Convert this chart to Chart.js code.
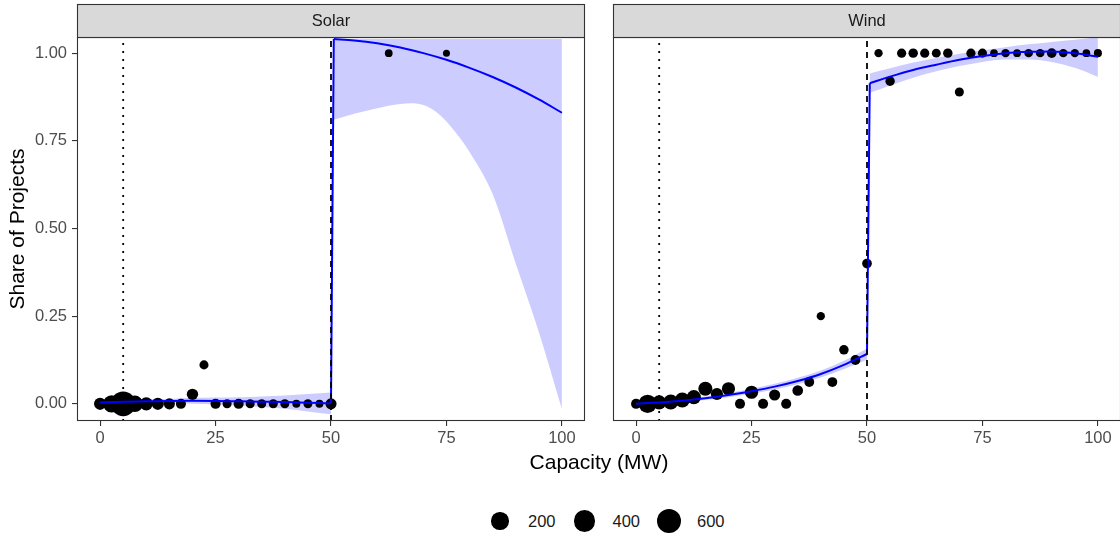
<!DOCTYPE html>
<html>
<head>
<meta charset="utf-8">
<script src="https://cdn.jsdelivr.net/npm/chart.js@4.4.1/dist/chart.umd.min.js"></script>
<style>
html,body{margin:0;padding:0;background:#fff;width:1120px;height:537px;overflow:hidden;font-family:"Liberation Sans",Arial,sans-serif;}
canvas{position:absolute;top:0;}
#c1{left:0;}
#c2{left:536px;}
#xtitle{position:absolute;left:0;top:449px;width:1198px;text-align:center;font-size:21px;line-height:25px;color:#000;}
.lk{position:absolute;background:#000;border-radius:50%;}
.lt{position:absolute;font-size:16.5px;line-height:20px;color:#1a1a1a;}
</style>
</head>
<body>
<canvas id="c1" width="600" height="450"></canvas>
<canvas id="c2" width="600" height="450"></canvas>
<div id="xtitle">Capacity (MW)</div>
<div id="legend"></div>
<script>
// ---------- data ----------
const panels = ["Solar", "Wind"];
const xTicks = [0, 25, 50, 75, 100];
const yTicks = [0, 0.25, 0.5, 0.75, 1];
const yTickLabels = ["0.00", "0.25", "0.50", "0.75", "1.00"];
const legendSizes = [200, 400, 600];
const sizeMin = 1, sizeMax = 650;
const thresholdLow = 5, thresholdHigh = 50;

const solarX = [0,2.5,5,7.5,10,12.5,15,17.5,20,22.5,25,27.5,30,32.5,35,37.5,40,42.5,45,47.5,50,62.5,75];
const solarY = [0,0,0,0,0,0,0,0,0.027,0.111,0,0,0,0,0,0,0,0,0,0,0,1,1];
const solarN = [51,198,600,168,73,51,33,19,37,9,19,9,19,9,9,9,9,3,9,3,33,2,1];

const windX = [0,2.5,5,7.5,10,12.5,15,17.5,20,22.5,25,27.5,30,32.5,35,37.5,40,42.5,45,47.5,50,52.5,55,57.5,60,62.5,65,67.5,70,72.5,75,77.5,80,82.5,85,87.5,90,92.5,95,97.5,100];
const windY = [0,0,0.004,0.005,0.011,0.019,0.043,0.028,0.043,0,0.033,0,0.025,0,0.038,0.062,0.25,0.062,0.154,0.125,0.4,1,0.92,1,1,1,1,1,0.889,1,1,1,1,1,1,1,1,1,1,1,1];
const windN = [19,240,95,120,120,95,95,51,73,19,73,19,33,19,26,16,4,16,13,16,15,4,12,10,12,10,8,12,9,10,9,2,5,2,5,5,14,5,4,2,3];

const fitXLeft  = [0,5,10,15,20,25,30,35,40,45,50];
const fitXRight = [50.6,55,60,65,70,75,80,85,90,95,100];
const solarBandXRight = [50.6,55,60,65,67.5,70,72.5,75,77.5,80,85,90,95,100];

const solarFitLeft  = [0.004,0.006,0.007,0.008,0.0085,0.008,0.007,0.006,0.005,0.003,0.001];
const solarHiLeft   = [0.009,0.010,0.012,0.014,0.017,0.018,0.019,0.021,0.024,0.028,0.032];
const solarLoLeft   = [-0.001,0.002,0.002,0.002,0.000,-0.002,-0.005,-0.009,-0.014,-0.022,-0.030];
const solarFitRight = [1.040,1.036,1.028,1.016,1.000,0.981,0.958,0.932,0.902,0.868,0.830];
const solarHiRight  = [1.040,1.040,1.040,1.040,1.040,1.040,1.040,1.040,1.040,1.040,1.040,1.040,1.040,1.040];
const solarLoRight  = [0.810,0.827,0.843,0.855,0.857,0.852,0.835,0.805,0.765,0.718,0.598,0.400,0.205,-0.015];

const windFitLeft  = [0,0.004,0.009,0.016,0.025,0.036,0.049,0.065,0.085,0.111,0.142];
const windHiLeft   = [0.006,0.009,0.014,0.021,0.031,0.043,0.057,0.074,0.095,0.123,0.158];
const windLoLeft   = [-0.006,-0.001,0.004,0.011,0.019,0.029,0.041,0.056,0.075,0.099,0.126];
const windFitRight = [0.914,0.933,0.952,0.967,0.981,0.992,1.000,1.004,1.005,1.000,0.990];
const windHiRight  = [0.942,0.957,0.973,0.986,0.998,1.008,1.017,1.025,1.032,1.038,1.045];
const windLoRight  = [0.887,0.908,0.930,0.948,0.963,0.975,0.982,0.982,0.975,0.958,0.932];

// ---------- helpers ----------
const FONT = "'Liberation Sans', Arial, sans-serif";
Chart.defaults.font.family = FONT;
const Y_MIN = -0.049, Y_MAX = 1.046, X_MIN = -5, X_MAX = 105;
function radius(n) { return 3.5 + 9.3 * Math.sqrt((n - sizeMin) / (sizeMax - sizeMin)); }
const pts = (xs, ys) => xs.map((x, i) => ({x: x, y: ys[i]}));
const BAND = 'rgba(0,0,255,0.2)';
const BLUE = '#0000ff';

const panelPlugin = {
  id: 'panel',
  afterDraw(chart, args, opts) {
    const {ctx, chartArea: a} = chart;
    ctx.save();
    ctx.strokeStyle = '#333333';
    ctx.lineWidth = 1.1;
    ctx.strokeRect(a.left + 0.5, a.top + 0.5, a.right - a.left - 1, a.bottom - a.top - 1);
    ctx.fillStyle = '#d9d9d9';
    ctx.fillRect(a.left, 4, a.right - a.left, a.top - 4);
    ctx.strokeRect(a.left + 0.5, 4.5, a.right - a.left - 1, a.top - 4);
    ctx.fillStyle = '#1a1a1a';
    ctx.font = '16.5px ' + FONT;
    ctx.textAlign = 'center';
    ctx.textBaseline = 'middle';
    ctx.fillText(opts.label, (a.left + a.right) / 2, (4 + a.top) / 2 + 1);
    ctx.restore();
  }
};

function makeChart(id, label, px, py, pn, fl, hl, ll, fr, hr, lr, bandXR, showY) {
  const datasets = [
    {type:'line', data:[{x:thresholdLow,y:Y_MIN},{x:thresholdLow,y:Y_MAX}], borderColor:'#000', borderWidth:1.8, borderDash:[2,6], pointRadius:0, fill:false, order:0},
    {type:'line', data:[{x:thresholdHigh,y:Y_MIN},{x:thresholdHigh,y:Y_MAX}], borderColor:'#000', borderWidth:1.8, borderDash:[6,5], pointRadius:0, fill:false, order:0},
    {type:'line', data:pts(fitXLeft, fl), borderColor:BLUE, borderWidth:2, pointRadius:0, fill:false, cubicInterpolationMode:'monotone', order:1},
    {type:'line', data:[{x:fitXLeft[fitXLeft.length-1], y:fl[fl.length-1]}, {x:fitXRight[0], y:fr[0]}], borderColor:BLUE, borderWidth:2, pointRadius:0, fill:false, tension:0, order:1},
    {type:'line', data:pts(fitXRight, fr), borderColor:BLUE, borderWidth:2, pointRadius:0, fill:false, cubicInterpolationMode:'monotone', order:1},
    {type:'scatter', data:pts(px, py), backgroundColor:'#000', borderWidth:0,
      pointRadius: c => radius(pn[c.dataIndex]), pointHoverRadius: c => radius(pn[c.dataIndex]), order:2},
    {type:'line', data:pts(fitXLeft, ll), borderWidth:0, pointRadius:0, fill:false, cubicInterpolationMode:'monotone', order:3},
    {type:'line', data:pts(fitXLeft, hl), borderWidth:0, pointRadius:0, backgroundColor:BAND, fill:6, cubicInterpolationMode:'monotone', order:3},
    {type:'line', data:pts(bandXR, lr), borderWidth:0, pointRadius:0, fill:false, cubicInterpolationMode:'monotone', order:3},
    {type:'line', data:pts(bandXR, hr), borderWidth:0, pointRadius:0, backgroundColor:BAND, fill:8, cubicInterpolationMode:'monotone', order:3}
  ];
  return new Chart(document.getElementById(id), {
    type: 'scatter',
    data: {datasets},
    plugins: [panelPlugin],
    options: {
      responsive: false, animation: false, events: [],
      layout: {padding: {top: 37, right: 15, left: 0, bottom: 0}},
      plugins: {legend: {display: false}, tooltip: {enabled: false}, panel: {label: label}},
      scales: {
        x: {
          type: 'linear', min: X_MIN, max: X_MAX,
          afterFit: s => { s.height = 29; },
          afterBuildTicks: s => { s.ticks = xTicks.map(v => ({value: v})); },
          grid: {display: true, drawOnChartArea: false, drawTicks: true, tickLength: 5, color: '#333333', lineWidth: 1.1},
          border: {display: false},
          ticks: {color: '#4d4d4d', font: {size: 16.5}, padding: 3, maxRotation: 0, callback: v => String(v)}
        },
        y: {
          type: 'linear', min: Y_MIN, max: Y_MAX,
          afterFit: s => { s.width = 77; },
          afterBuildTicks: s => { s.ticks = yTicks.map(v => ({value: v})); },
          grid: {display: showY, drawOnChartArea: false, drawTicks: true, tickLength: 5, color: '#333333', lineWidth: 1.1},
          border: {display: false},
          ticks: {display: showY, color: '#4d4d4d', font: {size: 16.5}, padding: 5,
            callback: v => { const i = yTicks.indexOf(v); return i >= 0 ? yTickLabels[i] : ''; }},
          title: {display: showY, text: 'Share of Projects', color: '#000', font: {size: 21}, padding: {top: 6, bottom: 0}}
        }
      }
    }
  });
}

makeChart('c1', panels[0], solarX, solarY, solarN, solarFitLeft, solarHiLeft, solarLoLeft, solarFitRight, solarHiRight, solarLoRight, solarBandXRight, true);
makeChart('c2', panels[1], windX, windY, windN, windFitLeft, windHiLeft, windLoLeft, windFitRight, windHiRight, windLoRight, fitXRight, false);

// legend
const legendLayout = {x0: 500, step: 84.5, cy: 521, textGap: 28};
const lg = document.getElementById('legend');
legendSizes.forEach((v, i) => {
  const r = radius(v);
  const cx = legendLayout.x0 + i * legendLayout.step;
  const k = document.createElement('div');
  k.className = 'lk';
  k.style.left = (cx - r) + 'px'; k.style.top = (legendLayout.cy - r) + 'px';
  k.style.width = (2 * r) + 'px'; k.style.height = (2 * r) + 'px';
  lg.appendChild(k);
  const t = document.createElement('div');
  t.className = 'lt';
  t.textContent = String(v);
  t.style.left = (cx + legendLayout.textGap) + 'px';
  t.style.top = (legendLayout.cy - 10) + 'px';
  lg.appendChild(t);
});
</script>
</body>
</html>
